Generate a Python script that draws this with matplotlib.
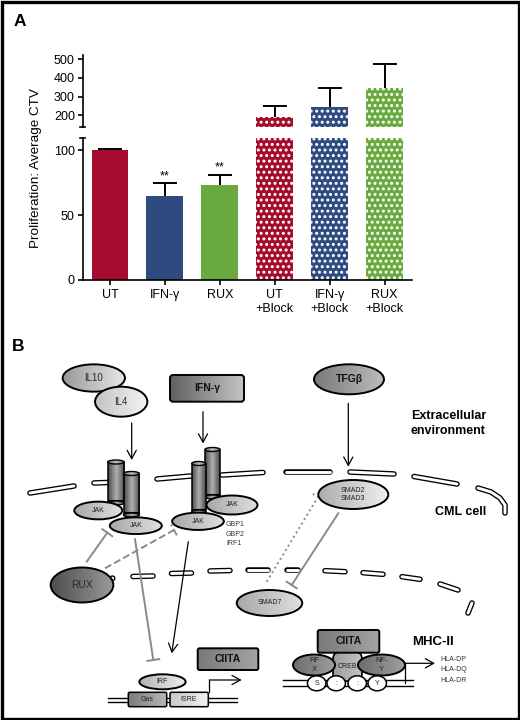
import numpy as np
import matplotlib
matplotlib.use('Agg')
import matplotlib.pyplot as plt
from matplotlib.patches import Ellipse, Rectangle, FancyBboxPatch
from matplotlib.colors import LinearSegmentedColormap

plt.rcParams['font.family'] = ['Liberation Sans', 'DejaVu Sans']
plt.rcParams['hatch.linewidth'] = 1.4

# ---------------- data (panel A) ----------------
categories = ['UT', 'IFN-γ', 'RUX', 'UT\n+Block', 'IFN-γ\n+Block', 'RUX\n+Block']
means = [100, 64.5, 73.5, 193, 243, 346]
errors = [1, 10, 7.5, 56, 105, 128]
bar_colors = ['#A50B2D', '#2D4B7E', '#6AA93E', '#A50B2D', '#2D4B7E', '#6AA93E']
hatched = [False, False, False, True, True, True]
significance = ['', '**', '**', '', '', '']
lower_ticks = [0, 50, 100]
upper_ticks = [200, 300, 400, 500]
lower_lim = (0, 110)
upper_lim = (138, 522)

W, H = 520, 720
fig = plt.figure(figsize=(5.2, 7.2), dpi=100)


def fx(px):
    return px / W


def fy(py):
    return 1 - py / H


x_left, x_right = 82.5, 412
ax_lo = fig.add_axes([fx(x_left), fy(280), fx(x_right - x_left), (280 - 137.5) / H])
ax_hi = fig.add_axes([fx(x_left), fy(127), fx(x_right - x_left), (127 - 55) / H])

x = np.arange(len(categories))
m = np.array(means, float)
e = np.array(errors, float)
for ax in (ax_lo, ax_hi):
    for i in range(len(categories)):
        if hatched[i]:
            ax.bar(x[i], means[i], width=0.67, color=bar_colors[i], edgecolor='white',
                   linewidth=0, hatch='...')
        else:
            ax.bar(x[i], means[i], width=0.67, color=bar_colors[i], linewidth=0)
    ax.vlines(x, m, m + e, color='black', lw=1.4)
    ax.plot(x, m + e, ls='none', marker='_', markersize=16.6, mew=1.4, color='black')
    ax.set_xlim(-0.5, 5.5)
    for s in ('top', 'right'):
        ax.spines[s].set_visible(False)
    for s in ax.spines.values():
        s.set_linewidth(1.2)
    ax.tick_params(axis='y', direction='out', length=3.5, width=1.2, labelsize=9, pad=2)

ax_lo.set_ylim(*lower_lim)
ax_lo.set_yticks(lower_ticks)
ax_lo.set_xticks(x)
ax_lo.set_xticklabels(categories)
ax_lo.tick_params(axis='x', direction='out', length=3.5, width=1.2, labelsize=9, pad=3)

ax_hi.set_ylim(*upper_lim)
ax_hi.set_yticks(upper_ticks)
ax_hi.spines['bottom'].set_visible(False)
ax_hi.set_xticks([])

# break caps
ax_hi.plot([-0.009, 0.009], [0, 0], transform=ax_hi.transAxes, color='black', lw=1.2, clip_on=False)
ax_lo.plot([-0.009, 0.009], [1, 1], transform=ax_lo.transAxes, color='black', lw=1.2, clip_on=False)

for i, s in enumerate(significance):
    if s:
        ax_lo.annotate(s, (x[i], means[i] + errors[i]), xytext=(0, 1), textcoords='offset points',
                       ha='center', va='bottom', fontsize=9)

fig.text(fx(36), fy(168), 'Proliferation: Average CTV', rotation=90, ha='center', va='center',
         fontsize=9.7)
fig.text(fx(19.5), fy(22), 'A', ha='center', va='center', fontsize=12.5, weight='bold')

# ---------------- panel B (illustration, pixel coordinates) ----------------
axb = fig.add_axes([0, 0, 1, 1])
axb.set_xlim(0, W)
axb.set_ylim(H, 0)
axb.axis('off')


def gfill(patch, cols, bbox, z, vertical=False):
    patch.set_facecolor('none')
    patch.set_zorder(z + 0.02)
    axb.add_patch(patch)
    x0, x1, y0, y1 = bbox
    cmap = LinearSegmentedColormap.from_list('g', cols)
    g = np.linspace(0, 1, 64)
    arr = g[:, None] if vertical else g[None, :]
    im = axb.imshow(arr, cmap=cmap, extent=[x0, x1, y1, y0], aspect='auto', zorder=z,
                    interpolation='bilinear', origin='upper')
    im.set_clip_path(patch)


def ell(cx, cy, w, h, cols, z, lw=1.4, text=None, fs=5, weight='normal', tc='#222222'):
    el = Ellipse((cx, cy), w, h, edgecolor='black', lw=lw)
    gfill(el, cols, (cx - w / 2, cx + w / 2, cy - h / 2, cy + h / 2), z)
    if text:
        axb.text(cx, cy, text, ha='center', va='center', fontsize=fs, weight=weight, color=tc,
                 zorder=z + 0.05, linespacing=1.3)


def box(x0, y0, x1, y1, cols, z, text=None, fs=7.5, r=3, lw=1.4):
    b = FancyBboxPatch((x0, y0), x1 - x0, y1 - y0, boxstyle=f'round,pad=0,rounding_size={r}',
                       edgecolor='black', lw=lw)
    gfill(b, cols, (x0, x1, y0, y1), z)
    if text:
        axb.text((x0 + x1) / 2, (y0 + y1) / 2, text, ha='center', va='center', fontsize=fs,
                 weight='bold', color='#111111', zorder=z + 0.05)


def mem(pts, z=2):
    xs, ys = zip(*pts)
    axb.plot(xs, ys, color='black', lw=4.0, solid_capstyle='round', zorder=z)
    axb.plot(xs, ys, color='white', lw=2.1, solid_capstyle='round', zorder=z + 0.01)


def cyl(x0, x1, ytop, ybot, z):
    w = x1 - x0
    cx = (x0 + x1) / 2
    body = Rectangle((x0, ytop), w, ybot - ytop, edgecolor='black', lw=1.1)
    gfill(body, ['#4a4a4a', '#b0b0b0', '#4a4a4a'], (x0, x1, ytop, ybot), z)
    ell(cx, ybot, w, 4, ['#505050', '#a8a8a8', '#505050'], z + 0.1, lw=1.0)
    axb.plot([x0, x1], [ybot - 3.5, ybot - 3.5], color='black', lw=0.8, zorder=z + 0.2)
    ell(cx, ytop, w, 4, ['#6a6a6a', '#c0c0c0', '#6a6a6a'], z + 0.1, lw=1.0)


def arrow(p0, p1, color='black', lw=0.9, z=3):
    axb.annotate('', xy=p1, xytext=p0,
                 arrowprops=dict(arrowstyle='->,head_length=0.55,head_width=0.3', color=color,
                                 lw=lw, shrinkA=0, shrinkB=0, mutation_scale=11), zorder=z)


def inhib(p0, p1, color='#8a8a8a', ls='-', lw=1.4, bar=12, z=3):
    axb.plot([p0[0], p1[0]], [p0[1], p1[1]], color=color, lw=lw, ls=ls, zorder=z)
    d = np.array(p1, float) - np.array(p0, float)
    d /= np.linalg.norm(d)
    n = np.array([-d[1], d[0]])
    a = np.array(p1) + n * bar / 2
    b = np.array(p1) - n * bar / 2
    axb.plot([a[0], b[0]], [a[1], b[1]], color=color, lw=lw, ls=ls, zorder=z)


axb.text(18.3, 346.7, 'B', ha='center', va='center', fontsize=12.5, weight='bold')

# outer membrane
for seg in [[(30, 493), (74, 486)], [(94, 483), (107, 482.5)], [(157, 479), (191, 476)],
            [(222, 475), (263, 472.5)], [(286, 472), (330, 472)], [(350, 472), (394, 474)],
            [(414, 476.5), (457, 484)],
            [(478, 488), (491, 492), (500, 498), (505, 505), (505, 513)]]:
    mem(seg)
# inner membrane
for seg in [[(133, 576.5), (153, 576)], [(171.5, 573.5), (191.5, 573)], [(210, 571), (230, 570.5)],
            [(248, 570), (268, 570)], [(287, 570), (298, 570)], [(325, 570.7), (345, 571.7)],
            [(363, 572.7), (383, 574.3)], [(402, 576.7), (420, 579.3)], [(440, 584), (458, 590)],
            [(468, 613), (472, 603)]]:
    mem(seg)
axb.add_patch(Ellipse((112.5, 578.3), 4.5, 4.5, facecolor='white', edgecolor='black', lw=1.0, zorder=2))

# ligands
ell(93.8, 378, 62.3, 27.3, ['#9a9a9a', '#e8e8e8'], 10, text='IL10', fs=7, tc='#2a2a2a')
ell(121.2, 401.7, 52.3, 30, ['#c4c4c4', '#f4f4f4'], 11, text='IL4', fs=7, tc='#2a2a2a')
box(170, 375, 244, 401.7, ['#606060', '#c4c4c4'], 10, text='IFN-γ', fs=7.5)
ell(349, 379.3, 70, 30, ['#7a7a7a', '#bcbcbc'], 10, text='TFGβ', fs=7.5, weight='bold', tc='#111111')

axb.text(410.7, 415.7, 'Extracellular', ha='left', va='center', fontsize=9, weight='bold')
axb.text(410.7, 431.5, 'environment', ha='left', va='center', fontsize=9, weight='bold')
axb.text(435, 511.7, 'CML cell', ha='left', va='center', fontsize=9, weight='bold')

arrow((131.7, 423), (131.7, 460))
arrow((203, 411.7), (203, 443.5))
arrow((348.3, 403.3), (348.3, 466.7))

# receptors
cyl(107.7, 124, 462, 503, 5)
ell(98.3, 510.5, 48, 17.7, ['#a8a8a8', '#e0e0e0'], 6, text='JAK', fs=5)
cyl(123.5, 139.3, 473.5, 515, 7)
ell(135.8, 525.7, 52, 16.7, ['#a8a8a8', '#e0e0e0'], 8, text='JAK', fs=5)

cyl(205, 220, 449.5, 497, 5)
ell(232, 505, 51, 19, ['#a8a8a8', '#e0e0e0'], 6, text='JAK', fs=5)
cyl(191.7, 205.7, 463.5, 512, 7)
ell(198, 521.3, 51.7, 17.3, ['#a8a8a8', '#e0e0e0'], 8, text='JAK', fs=5)

for yy, t in zip([524, 534, 543.7], ['GBP1', 'GBP2', 'IRF1']):
    axb.text(226, yy, t, ha='left', va='center', fontsize=5, color='#333333')

# SMADs
ell(353.3, 494.5, 70, 29, ['#acacac', '#efefef'], 10, text='SMAD2\nSMAD3', fs=5)
ell(269.5, 603, 65.5, 26, ['#a8a8a8', '#e0e0e0'], 10, text='SMAD7', fs=5)
inhib((338.3, 513.3), (291.7, 585))
inhib((266.7, 581.7), (318, 497), ls=':', lw=1.4)

# RUX
ell(82, 585, 62.7, 35, ['#4e4e4e', '#9a9a9a'], 10, text='RUX', fs=7.5, tc='#2a2a2a')
inhib((86.7, 561.7), (107.3, 532.7))
inhib((105, 568.3), (174, 530), ls='--')

# signalling to nucleus
inhib((135, 539.3), (153.3, 660))
arrow((188.3, 541.7), (171.7, 653.3))

# left promoter
for yy in (697.7, 702.3):
    axb.plot([108.3, 236.7], [yy, yy], color='black', lw=1.0, zorder=3)
box(128.3, 692.3, 166.7, 706.7, ['#7a7a7a', '#b8b8b8'], 10, r=1.5, lw=1.1)
axb.text(147.5, 699.5, 'Gas', ha='center', va='center', fontsize=5, color='#222222', zorder=11)
box(170, 692.3, 208.3, 706.7, ['#c8c8c8', '#f2f2f2'], 10, r=1.5, lw=1.1)
axb.text(189, 699.5, 'ISRE', ha='center', va='center', fontsize=5, color='#222222', zorder=11)
ell(162.5, 681.8, 46.3, 15, ['#b4b4b4', '#ececec'], 12, text='IRF', fs=5)
axb.plot([209.3, 209.3], [692, 680], color='black', lw=0.9, zorder=3)
arrow((209.3, 680), (241.7, 680))
box(197.7, 648.3, 258.3, 670, ['#7a7a7a', '#a4a4a4'], 10, text='CIITA', fs=7.5, r=2)

# right promoter (MHC-II)
for yy in (680, 686.3):
    axb.plot([283, 413], [yy, yy], color='black', lw=1.0, zorder=3)
box(333, 652, 362, 681, ['#9c9c9c', '#c4c4c4'], 9, r=7, lw=1.2)
axb.text(347.5, 666.5, 'CREB', ha='center', va='center', fontsize=5, color='#222222', zorder=13)
ell(314, 665, 42, 21, ['#6c6c6c', '#9e9e9e'], 10, text='RF\nX', fs=5.5)
ell(381.5, 665, 47, 21, ['#6c6c6c', '#9e9e9e'], 10, text='NF-\nY', fs=5.5)
for cxx, t in zip([316.7, 336.2, 357.2, 377.2], ['S', ':', ':', 'Y']):
    ell(cxx, 683.3, 18.5, 15, ['#ffffff', '#ffffff'], 14, lw=1.1, text=t, fs=5)
box(317.7, 630, 379.3, 652.7, ['#7a7a7a', '#a4a4a4'], 15, text='CIITA', fs=7.5, r=2)
axb.plot([405, 405], [683, 663.3], color='black', lw=0.9, zorder=3)
arrow((405, 663.3), (435, 663.3))
axb.text(411.7, 641.7, 'MHC-II', ha='left', va='center', fontsize=9.5, weight='bold')
for yy, t in zip([659.3, 669.7, 680], ['HLA-DP', 'HLA-DQ', 'HLA-DR']):
    axb.text(440.7, yy, t, ha='left', va='center', fontsize=5, color='#333333')

# figure border
axb.add_patch(Rectangle((1.5, 1.5), W - 3, H - 3, fill=False, edgecolor='black', lw=2.4,
                        clip_on=False, zorder=30))
axb.set_xlim(0, W)
axb.set_ylim(H, 0)

fig.savefig('out.png', dpi=100)
